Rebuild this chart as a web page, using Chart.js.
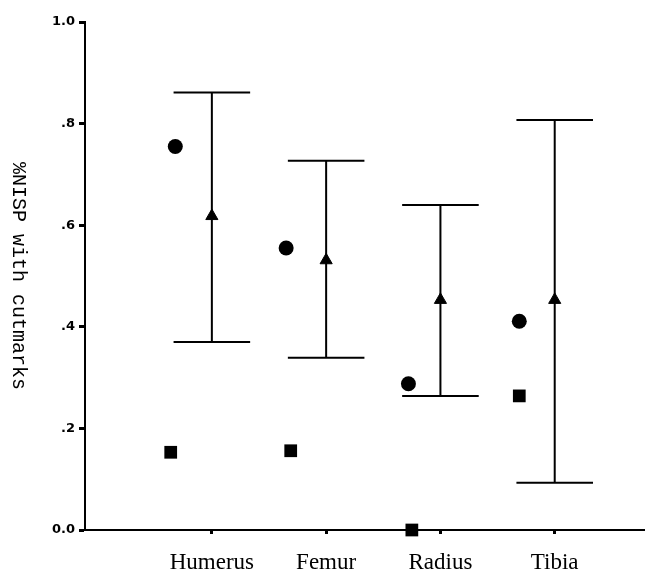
<!DOCTYPE html>
<html>
<head>
<meta charset="utf-8">
<script src="https://cdn.jsdelivr.net/npm/chart.js@4"></script>
<style>
  html, body { margin: 0; padding: 0; background: #fff; }
  #wrap { width: 645px; height: 571px; }
</style>
</head>
<body>
<div id="wrap"><canvas id="chart"></canvas></div>
<script>
// data
const bones = ["Humerus", "Femur", "Radius", "Tibia"];
const circleValues = [0.755, 0.555, 0.288, 0.411];
const squareValues = [0.153, 0.156, 0.0, 0.264];
const meanValues = [0.618, 0.531, 0.453, 0.453];
const upperValues = [0.861, 0.727, 0.640, 0.807];
const lowerValues = [0.370, 0.339, 0.264, 0.093];
const yTickLabels = { 0: "0.0", 0.2: ".2", 0.4: ".4", 0.6: ".6", 0.8: ".8", 1: "1.0" };

const circleShift = [-0.32, -0.35, -0.28, -0.31];
const squareShift = [-0.36, -0.31, -0.25, -0.31];
const capHalf = 0.335;

// error bars: vertical stems + caps, broken with nulls
const stems = [];
const caps = [];
bones.forEach((b, i) => {
  const x = i + 1;
  stems.push({ x: x, y: lowerValues[i] }, { x: x, y: upperValues[i] }, { x: x, y: null });
  caps.push({ x: x - capHalf, y: upperValues[i] }, { x: x + capHalf, y: upperValues[i] }, { x: x, y: null });
  caps.push({ x: x - capHalf, y: lowerValues[i] }, { x: x + capHalf, y: lowerValues[i] }, { x: x, y: null });
});

// y title reads top-to-bottom, so draw it ourselves
const yTitle = {
  id: "yTitle",
  afterDraw(chart) {
    const ctx = chart.ctx;
    const y = chart.scales.y;
    ctx.save();
    ctx.translate(18, (y.top + y.bottom) / 2);
    ctx.rotate(Math.PI / 2);
    ctx.font = "20px 'Liberation Mono'";
    ctx.fillStyle = "#000";
    ctx.textAlign = "center";
    ctx.textBaseline = "middle";
    ctx.fillText("%NISP with cutmarks", 0, 0);
    ctx.restore();
  }
};

new Chart(document.getElementById("chart"), {
  type: "scatter",
  data: {
    datasets: [
      {
        label: "stems",
        data: stems,
        showLine: true,
        spanGaps: false,
        borderColor: "#000",
        borderWidth: 2,
        pointRadius: 0
      },
      {
        label: "caps",
        data: caps,
        showLine: true,
        spanGaps: false,
        borderColor: "#000",
        borderWidth: 2,
        pointRadius: 0
      },
      {
        label: "mean",
        data: meanValues.map((v, i) => ({ x: i + 1, y: v })),
        pointStyle: "triangle",
        pointRadius: 7,
        backgroundColor: "#000",
        borderColor: "#000",
        borderWidth: 1
      },
      {
        label: "circles",
        data: circleValues.map((v, i) => ({ x: i + 1 + circleShift[i], y: v })),
        pointStyle: "circle",
        pointRadius: 7.5,
        backgroundColor: "#000",
        borderColor: "#000",
        borderWidth: 0
      },
      {
        label: "squares",
        data: squareValues.map((v, i) => ({ x: i + 1 + squareShift[i], y: v })),
        pointStyle: "rect",
        pointRadius: 9,
        backgroundColor: "#000",
        borderColor: "#000",
        borderWidth: 0,
        clip: false
      }
    ]
  },
  options: {
    responsive: true,
    maintainAspectRatio: false,
    animation: false,
    layout: { autoPadding: false, padding: { top: 22, right: 0, bottom: 0, left: 0 } },
    plugins: {
      legend: { display: false },
      tooltip: { enabled: false }
    },
    scales: {
      x: {
        type: "linear",
        min: -0.11,
        max: 4.79,
        afterFit: (s) => { s.height = 41; s.paddingLeft = 0; s.paddingRight = 0; },
        afterBuildTicks: (s) => { s.ticks = bones.map((b, i) => ({ value: i + 1 })); },
        border: { display: true, color: "#000", width: 2 },
        grid: { drawOnChartArea: false, drawTicks: true, tickLength: 4, tickWidth: 3, color: "#000" },
        ticks: {
          color: "#000",
          padding: 15,
          maxRotation: 0,
          font: { family: "'Liberation Serif'", size: 23 },
          callback: (v) => bones[v - 1] || ""
        }
      },
      y: {
        min: 0,
        max: 1,
        afterFit: (s) => { s.width = 85; },
        afterBuildTicks: (s) => { s.ticks = [0, 0.2, 0.4, 0.6, 0.8, 1].map((v) => ({ value: v })); },
        border: { display: true, color: "#000", width: 2 },
        grid: { drawOnChartArea: false, drawTicks: true, tickLength: 6, tickWidth: 3, color: "#000" },
        ticks: {
          color: "#000",
          padding: 4,
          font: { family: "'DejaVu Sans'", size: 13, weight: "bold" },
          callback: (v) => yTickLabels[Math.round(v * 10) / 10]
        }
      }
    }
  },
  plugins: [yTitle]
});
</script>
</body>
</html>
